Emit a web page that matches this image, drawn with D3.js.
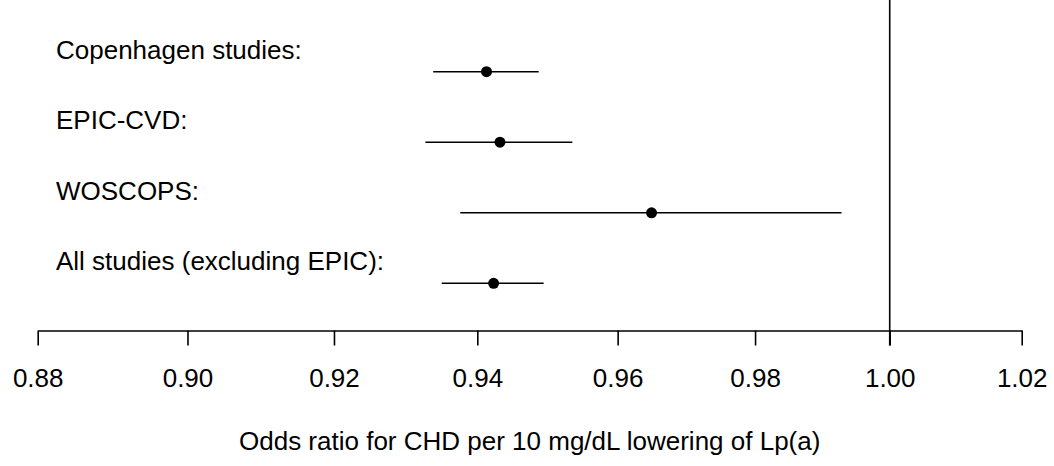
<!DOCTYPE html>
<html>
<head>
<meta charset="utf-8">
<script src="https://cdn.jsdelivr.net/npm/d3@7"></script>
<style>
  html, body { margin: 0; padding: 0; background: #fff; }
  svg { display: block; font-family: "Liberation Sans", Arial, Helvetica, sans-serif; }
</style>
</head>
<body>
<svg id="chart" width="1054" height="466"></svg>
<script>
// Study names and odds ratio estimates with 95% confidence limits
const studies = ["Copenhagen studies:", "EPIC-CVD:", "WOSCOPS:", "All studies (excluding EPIC):"];
const oddsRatio = [0.9413, 0.9432, 0.9649, 0.9423];
const lowerCI  = [0.9338, 0.9327, 0.9376, 0.9350];
const upperCI  = [0.9487, 0.9535, 0.9928, 0.9494];
const tickValues = [0.88, 0.90, 0.92, 0.94, 0.96, 0.98, 1.00, 1.02];
const xTitle = "Odds ratio for CHD per 10 mg/dL lowering of Lp(a)";

const svg = d3.select("#chart");
const axisY = 330.5;
const fontSize = 26;

// Odds ratios are plotted on a log scale
const x = d3.scaleLog().domain([0.88, 1.02]).range([37.7, 1021.7]);
const y = d3.scaleLinear().domain([0, 3]).range([71.7, 283.3]);

const rows = studies.map((s, i) => ({ name: s, or: oddsRatio[i], lo: lowerCI[i], hi: upperCI[i], i }));

// Reference line at OR = 1
svg.append("line")
  .attr("x1", x(1)).attr("x2", x(1))
  .attr("y1", 0).attr("y2", axisY + 15)
  .attr("stroke", "#000").attr("stroke-width", 1.6);

// Bottom axis
const axis = d3.axisBottom(x)
  .tickValues(tickValues)
  .tickFormat(d3.format(".2f"))
  .tickSize(15)
  .tickSizeOuter(0)
  .tickPadding(23);

const gAxis = svg.append("g")
  .attr("transform", `translate(0,${axisY})`)
  .call(axis);
gAxis.select(".domain").attr("stroke", "#000").attr("stroke-width", 1.6);
gAxis.selectAll(".tick line").attr("stroke", "#000").attr("stroke-width", 1.6);
gAxis.selectAll(".tick text")
  .attr("fill", "#000")
  .attr("font-size", fontSize)
  .attr("font-family", "Liberation Sans, Arial, sans-serif");

// Axis title
svg.append("text")
  .attr("x", (x.range()[0] + x.range()[1]) / 2)
  .attr("y", 450)
  .attr("text-anchor", "middle")
  .attr("font-size", fontSize)
  .attr("fill", "#000")
  .text(xTitle);

// Study labels
svg.selectAll("text.study")
  .data(rows)
  .join("text")
  .attr("class", "study")
  .attr("x", 56)
  .attr("y", d => y(d.i) - 13)
  .attr("font-size", fontSize)
  .attr("fill", "#000")
  .text(d => d.name);

// Confidence interval lines
svg.selectAll("line.ci")
  .data(rows)
  .join("line")
  .attr("class", "ci")
  .attr("x1", d => x(d.lo))
  .attr("x2", d => x(d.hi))
  .attr("y1", d => y(d.i))
  .attr("y2", d => y(d.i))
  .attr("stroke", "#000")
  .attr("stroke-width", 1.5);

// Point estimates
svg.selectAll("circle.est")
  .data(rows)
  .join("circle")
  .attr("class", "est")
  .attr("cx", d => x(d.or))
  .attr("cy", d => y(d.i))
  .attr("r", 5.5)
  .attr("fill", "#000");
</script>
</body>
</html>
